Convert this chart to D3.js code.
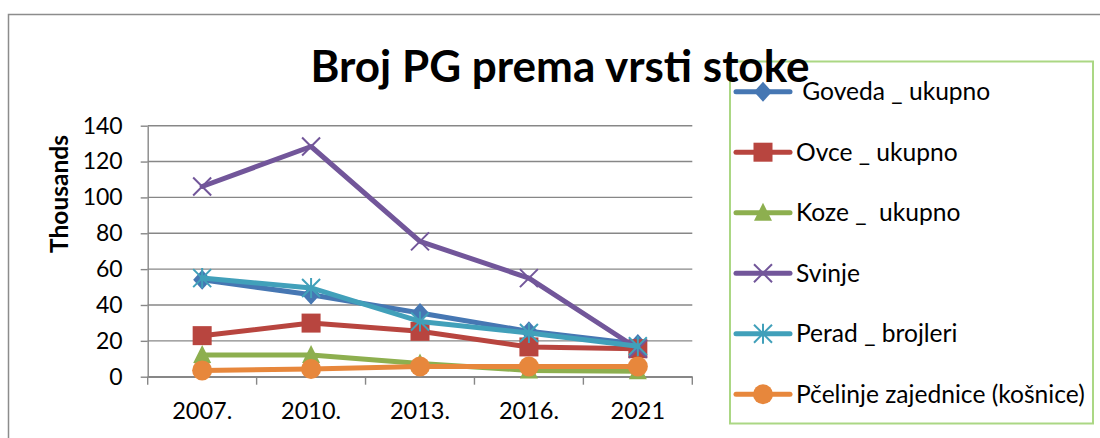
<!DOCTYPE html>
<html>
<head>
<meta charset="utf-8">
<script src="https://cdn.jsdelivr.net/npm/d3@7"></script>
<style>
  body { margin: 0; background: #fff; }
  svg { display: block; font-family: Lato, "Open Sans", sans-serif; }
</style>
</head>
<body>
<div class="chart"></div>
<script>
// Data (thousands)
var years = ["2007.", "2010.", "2013.", "2016.", "2021"];
var seriesNames = [" Goveda _ ukupno", "Ovce _ ukupno", "Koze _  ukupno", "Svinje", "Perad _ brojleri", "Pčelinje zajednice (košnice)"];
var goveda = [54.1, 45.7, 35.5, 25.3, 18.2];
var ovce = [22.9, 29.9, 25.3, 16.6, 15.6];
var koze = [12.1, 12.1, 7.4, 3.5, 3.0];
var svinje = [106.1, 128.4, 75.5, 55.0, 15.6];
var perad = [55.0, 49.5, 30.8, 24.4, 17.0];
var pcele = [3.5, 4.3, 5.7, 5.7, 5.7];
var yTicks = [0, 20, 40, 60, 80, 100, 120, 140];

var seriesValues = [goveda, ovce, koze, svinje, perad, pcele];
var colors = ["#4677b3", "#b8453f", "#8daf4f", "#72569a", "#41a0ba", "#e7873c"];
var markers = ["diamond", "square", "triangle", "cross", "star", "circle"];

var svgWidth = 1100;
var svgHeight = 438;
var plot = { left: 147.7, right: 692.3, top: 125.7, bottom: 376.7 };

var svg = d3.select(".chart")
  .append("svg")
  .attr("width", svgWidth)
  .attr("height", svgHeight);

// outer chart frame (runs off the right and bottom edges)
svg.append("rect")
  .attr("x", 8.5).attr("y", 14.5)
  .attr("width", 1200).attr("height", 500)
  .attr("fill", "#fff")
  .attr("stroke", "#8c8c8c")
  .attr("stroke-width", 1.5);

var x = d3.scaleBand().domain(years).range([plot.left, plot.right]);
var y = d3.scaleLinear().domain([0, 140]).range([plot.bottom, plot.top]);
var xc = function(d) { return x(d) + x.bandwidth() / 2; };

// gridlines
svg.append("g")
  .selectAll("line")
  .data(yTicks)
  .enter()
  .append("line")
  .attr("x1", plot.left).attr("x2", plot.right)
  .attr("y1", function(d) { return y(d); })
  .attr("y2", function(d) { return y(d); })
  .attr("stroke", "#878787")
  .attr("stroke-width", 1.4);

// y axis
var leftAxis = d3.axisLeft(y).tickValues(yTicks).tickSize(7).tickSizeOuter(0).tickPadding(18);
var gy = svg.append("g")
  .attr("transform", "translate(" + plot.left + ",0)")
  .call(leftAxis);
gy.select(".domain").attr("stroke", "#878787").attr("stroke-width", 1.4);
gy.selectAll(".tick line").attr("stroke", "#878787").attr("stroke-width", 1.4);
gy.selectAll("text").attr("font-size", 23).attr("fill", "#000").attr("font-family", "Lato");

// x axis
var bottomAxis = d3.axisBottom(x).tickSize(0).tickSizeOuter(0).tickPadding(26);
var gx = svg.append("g")
  .attr("transform", "translate(0," + plot.bottom + ")")
  .call(bottomAxis);
gx.select(".domain").attr("stroke", "#878787").attr("stroke-width", 1.4);
gx.selectAll("text").attr("font-size", 23.5).attr("fill", "#000").attr("font-family", "Lato");

// x ticks on category boundaries
var edges = years.map(function(d) { return x(d); }).concat([plot.right]);
gx.append("g")
  .selectAll("line")
  .data(edges)
  .enter()
  .append("line")
  .attr("x1", function(d) { return d; })
  .attr("x2", function(d) { return d; })
  .attr("y1", 0).attr("y2", 8)
  .attr("stroke", "#878787")
  .attr("stroke-width", 1.4);

// axis title
svg.append("text")
  .attr("transform", "translate(68,194) rotate(-90)")
  .attr("text-anchor", "middle")
  .attr("font-weight", "bold")
  .attr("font-size", 24.5)
  .text("Thousands");

// marker drawing
function drawMarker(g, type, color, cx, cy) {
  if (type === "diamond") {
    g.append("path")
      .attr("d", "M" + cx + "," + (cy - 10) + "L" + (cx + 9) + "," + cy + "L" + cx + "," + (cy + 10) + "L" + (cx - 9) + "," + cy + "Z")
      .attr("fill", color);
  } else if (type === "square") {
    g.append("rect")
      .attr("x", cx - 9.5).attr("y", cy - 9.5)
      .attr("width", 19).attr("height", 19)
      .attr("fill", color);
  } else if (type === "triangle") {
    g.append("path")
      .attr("d", "M" + cx + "," + (cy - 10) + "L" + (cx + 9) + "," + (cy + 8) + "L" + (cx - 9) + "," + (cy + 8) + "Z")
      .attr("fill", color);
  } else if (type === "circle") {
    g.append("circle")
      .attr("cx", cx).attr("cy", cy).attr("r", 10)
      .attr("fill", color);
  } else {
    var s = 9;
    var d = "M" + (cx - s) + "," + (cy - s) + "L" + (cx + s) + "," + (cy + s) +
      "M" + (cx - s) + "," + (cy + s) + "L" + (cx + s) + "," + (cy - s);
    if (type === "star") d += "M" + cx + "," + (cy - s - 1) + "L" + cx + "," + (cy + s + 1);
    g.append("path")
      .attr("d", d)
      .attr("fill", "none")
      .attr("stroke", color)
      .attr("stroke-width", 2);
  }
}

// legend box (title goes over it)
var legend = svg.append("g");
legend.append("rect")
  .attr("x", 730).attr("y", 61.5)
  .attr("width", 363).attr("height", 362)
  .attr("fill", "#fff")
  .attr("stroke", "#abd784")
  .attr("stroke-width", 2);

// series
var line = d3.line()
  .x(function(d, i) { return xc(years[i]); })
  .y(function(d) { return y(d); });

seriesValues.forEach(function(vals, k) {
  var g = svg.append("g");
  g.append("path")
    .datum(vals)
    .attr("d", line)
    .attr("fill", "none")
    .attr("stroke", colors[k])
    .attr("stroke-width", 5)
    .attr("stroke-linejoin", "round")
    .attr("stroke-linecap", "round");
  vals.forEach(function(v, i) {
    drawMarker(g, markers[k], colors[k], xc(years[i]), y(v));
  });
});

// legend entries
seriesNames.forEach(function(name, k) {
  var ly = 91.7 + k * 60.5;
  var g = legend.append("g");
  g.append("line")
    .attr("x1", 736).attr("x2", 790)
    .attr("y1", ly).attr("y2", ly)
    .attr("stroke", colors[k])
    .attr("stroke-width", 5)
    .attr("stroke-linecap", "round");
  drawMarker(g, markers[k], colors[k], 763, ly);
  g.append("text")
    .attr("x", 796)
    .attr("y", ly + 8.5)
    .attr("font-size", 24.6)
    .style("white-space", "pre")
    .text(name);
});

// title
svg.append("text")
  .attr("x", 560)
  .attr("y", 82)
  .attr("text-anchor", "middle")
  .attr("font-weight", "bold")
  .attr("font-size", 44)
  .text("Broj PG prema vrsti stoke");
</script>
</body>
</html>
